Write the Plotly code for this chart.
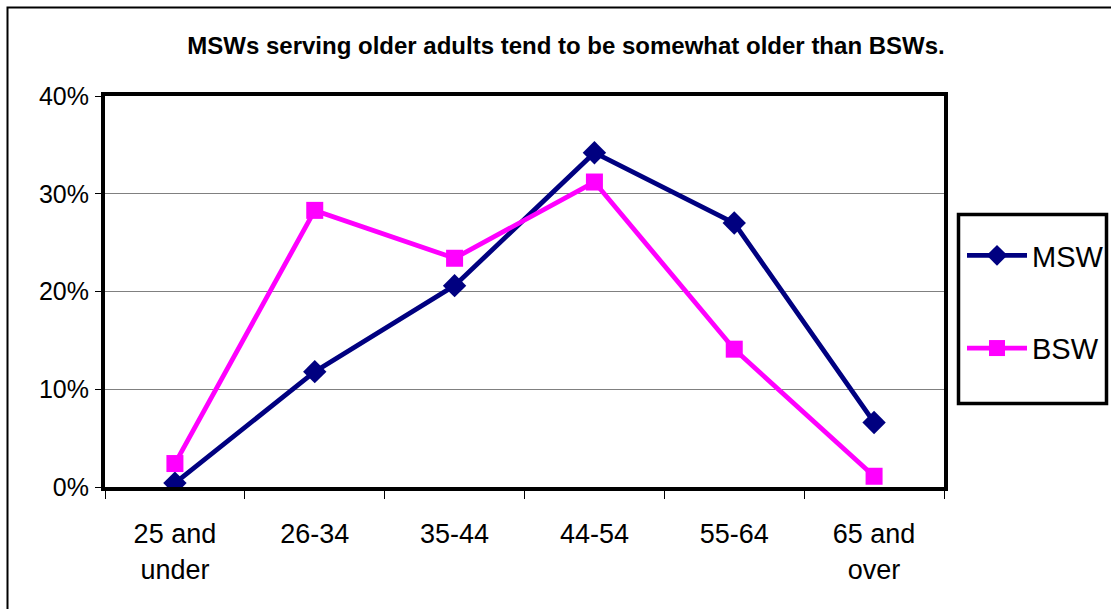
import plotly.graph_objects as go

categories = ["25 and<br>under", "26-34", "35-44", "44-54", "55-64", "65 and<br>over"]
msw = [0.004, 0.118, 0.206, 0.342, 0.270, 0.066]
bsw = [0.024, 0.283, 0.234, 0.312, 0.141, 0.011]
y_ticks = [0, 0.1, 0.2, 0.3, 0.4]
y_labels = ["0%", "10%", "20%", "30%", "40%"]

W, H = 1111, 609
L, R, T, B = 105, 944, 96, 487

def px(x):
    return (x - L) / (R - L)

def py(y):
    return (B - y) / (B - T)

FONT = "Liberation Sans, Arial, sans-serif"

fig = go.Figure()
fig.add_trace(go.Scatter(
    x=categories, y=msw, name="MSW", mode="lines+markers",
    line=dict(color="#000080", width=4.8),
    marker=dict(symbol="diamond", size=18, color="#000080"),
    legendgroup="a",
))
fig.add_trace(go.Scatter(
    x=categories, y=bsw, name="BSW", mode="lines+markers",
    line=dict(color="#FF00FF", width=4.8),
    marker=dict(symbol="square", size=17, color="#FF00FF"),
    legendgroup="b",
))

fig.update_layout(
    width=W, height=H,
    margin=dict(l=L, r=W - R, t=T, b=H - B),
    paper_bgcolor="white", plot_bgcolor="white",
    font=dict(family=FONT, color="black", size=25),
    title=dict(
        text="<b>MSWs serving older adults tend to be somewhat older than BSWs.</b>",
        font=dict(family=FONT, size=24, color="black"),
        x=566 / W, xanchor="center", xref="container",
        y=1 - 46 / H, yanchor="middle", yref="container",
    ),
    xaxis=dict(
        type="category", tickson="boundaries", ticks="outside", ticklen=8,
        tickcolor="black", tickwidth=1,
        showline=True, linecolor="black", linewidth=4, mirror=True,
        showgrid=False, tickfont=dict(size=27), range=[-0.5, 5.5],
        ticklabelstandoff=20,
    ),
    yaxis=dict(
        range=[0, 0.4], tickvals=y_ticks, ticktext=y_labels,
        ticks="outside", ticklen=6, tickcolor="black", tickwidth=1,
        showline=True, linecolor="black", linewidth=4, mirror=True,
        showgrid=True, gridcolor="#808080", gridwidth=1,
        tickfont=dict(size=25), ticklabelstandoff=1, zeroline=False,
    ),
    legend=dict(
        x=962 / W, xref="container", xanchor="left",
        y=1 - 230 / H, yref="container", yanchor="top",
        bgcolor="rgba(0,0,0,0)", borderwidth=0,
        font=dict(size=29, family=FONT), tracegroupgap=52,
        traceorder="grouped", itemwidth=60,
    ),
    showlegend=True,
    shapes=[
        dict(type="rect", xref="paper", yref="paper",
             x0=px(7.5), x1=px(1125), y0=py(7.5), y1=py(625),
             line=dict(color="black", width=2), layer="below"),
        dict(type="rect", xref="paper", yref="paper",
             x0=px(958.5), x1=px(1106.5), y0=py(214.5), y1=py(403.5),
             line=dict(color="black", width=3.5)),
    ],
)

fig.write_html("out.html", config={"displayModeBar": False},
               post_script="document.body.style.margin='0';")
